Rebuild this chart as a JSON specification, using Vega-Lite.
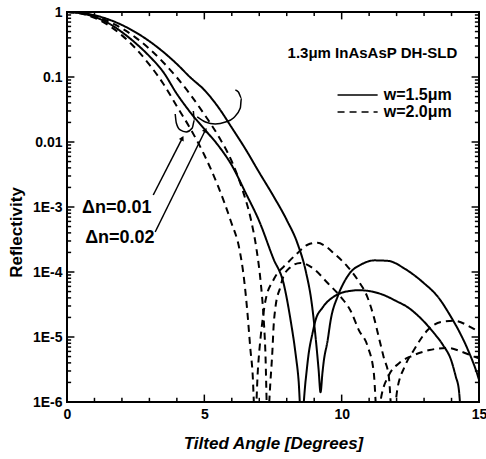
{
  "$schema": "https://vega.github.io/schema/vega-lite/v6.json",
  "width": 412,
  "height": 390,
  "autosize": {"type": "none"},
  "padding": {"left": 67, "top": 12, "right": 7, "bottom": 57},
  "background": "white",
  "config": {
    "view": {"stroke": "black", "strokeWidth": 2},
    "font": "Liberation Sans",
    "axis": {
      "domain": false,
      "grid": false,
      "ticks": false,
      "labelFont": "Liberation Sans",
      "labelFontWeight": "bold",
      "labelFontSize": 14,
      "labelColor": "black",
      "labelFlush": false,
      "titleFont": "Liberation Sans",
      "titleFontWeight": "bold",
      "titleFontSize": 17,
      "titleColor": "black"
    }
  },
  "datasets": {
    "curves": [
      {"c": "s2", "w": "1.5", "x": 0, "y": 1},
      {"c": "s2", "w": "1.5", "x": 0.5, "y": 0.9716},
      {"c": "s2", "w": "1.5", "x": 1, "y": 0.8913},
      {"c": "s2", "w": "1.5", "x": 1.5, "y": 0.7718},
      {"c": "s2", "w": "1.5", "x": 2, "y": 0.631},
      {"c": "s2", "w": "1.5", "x": 2.5, "y": 0.487},
      {"c": "s2", "w": "1.5", "x": 3, "y": 0.3548},
      {"c": "s2", "w": "1.5", "x": 3.5, "y": 0.244},
      {"c": "s2", "w": "1.5", "x": 4, "y": 0.1585},
      {"c": "s2", "w": "1.5", "x": 4.5, "y": 0.0977},
      {"c": "s2", "w": "1.5", "x": 5, "y": 0.0631},
      {"c": "s2", "w": "1.5", "x": 5.5, "y": 0.0347},
      {"c": "s2", "w": "1.5", "x": 6, "y": 0.0166},
      {"c": "s2", "w": "1.5", "x": 6.5, "y": 0.00776},
      {"c": "s2", "w": "1.5", "x": 7, "y": 0.00339},
      {"c": "s2", "w": "1.5", "x": 7.5, "y": 0.00151},
      {"c": "s2", "w": "1.5", "x": 8, "y": 0.000631},
      {"c": "s2", "w": "1.5", "x": 8.4, "y": 0.000269},
      {"c": "s2", "w": "1.5", "x": 8.7, "y": 0.0001},
      {"c": "s2", "w": "1.5", "x": 8.9, "y": 0.0000355},
      {"c": "s2", "w": "1.5", "x": 9.05, "y": 0.00001},
      {"c": "s2", "w": "1.5", "x": 9.16, "y": 0.00000316},
      {"c": "s2", "w": "1.5", "x": 9.23, "y": 0.00000141},
      {"c": "s2", "w": "1.5", "x": 9.3, "y": 0.0000028},
      {"c": "s2", "w": "1.5", "x": 9.34, "y": 0.00000398},
      {"c": "s2", "w": "1.5", "x": 9.49, "y": 0.0000089},
      {"c": "s2", "w": "1.5", "x": 9.6, "y": 0.0000182},
      {"c": "s2", "w": "1.5", "x": 9.85, "y": 0.0000417},
      {"c": "s2", "w": "1.5", "x": 10.07, "y": 0.0000676},
      {"c": "s2", "w": "1.5", "x": 10.33, "y": 0.0001},
      {"c": "s2", "w": "1.5", "x": 10.69, "y": 0.000129},
      {"c": "s2", "w": "1.5", "x": 11.2, "y": 0.000151},
      {"c": "s2", "w": "1.5", "x": 11.7, "y": 0.000148},
      {"c": "s2", "w": "1.5", "x": 12.3, "y": 0.000112},
      {"c": "s2", "w": "1.5", "x": 12.99, "y": 0.0000676},
      {"c": "s2", "w": "1.5", "x": 13.5, "y": 0.0000417},
      {"c": "s2", "w": "1.5", "x": 13.98, "y": 0.0000204},
      {"c": "s2", "w": "1.5", "x": 14.3, "y": 0.0000117},
      {"c": "s2", "w": "1.5", "x": 14.6, "y": 0.0000063},
      {"c": "s2", "w": "1.5", "x": 14.96, "y": 0.0000025},
      {"c": "s2", "w": "1.5", "x": 15, "y": 0.0000022},

      {"c": "s1", "w": "1.5", "x": 0, "y": 1},
      {"c": "s1", "w": "1.5", "x": 0.5, "y": 0.955},
      {"c": "s1", "w": "1.5", "x": 1, "y": 0.841},
      {"c": "s1", "w": "1.5", "x": 1.5, "y": 0.676},
      {"c": "s1", "w": "1.5", "x": 2, "y": 0.49},
      {"c": "s1", "w": "1.5", "x": 2.5, "y": 0.331},
      {"c": "s1", "w": "1.5", "x": 3, "y": 0.209},
      {"c": "s1", "w": "1.5", "x": 3.5, "y": 0.12},
      {"c": "s1", "w": "1.5", "x": 4, "y": 0.055},
      {"c": "s1", "w": "1.5", "x": 4.5, "y": 0.0282},
      {"c": "s1", "w": "1.5", "x": 5, "y": 0.0158},
      {"c": "s1", "w": "1.5", "x": 5.5, "y": 0.00891},
      {"c": "s1", "w": "1.5", "x": 6, "y": 0.00437},
      {"c": "s1", "w": "1.5", "x": 6.5, "y": 0.00166},
      {"c": "s1", "w": "1.5", "x": 7, "y": 0.000603},
      {"c": "s1", "w": "1.5", "x": 7.5, "y": 0.000166},
      {"c": "s1", "w": "1.5", "x": 7.9, "y": 0.000063},
      {"c": "s1", "w": "1.5", "x": 8.14, "y": 0.0000182},
      {"c": "s1", "w": "1.5", "x": 8.32, "y": 0.0000056},
      {"c": "s1", "w": "1.5", "x": 8.43, "y": 0.00000219},
      {"c": "s1", "w": "1.5", "x": 8.53, "y": 0.0000005},
      {"c": "s1", "w": "1.5", "x": 8.69, "y": 0.00000219},
      {"c": "s1", "w": "1.5", "x": 8.8, "y": 0.0000056},
      {"c": "s1", "w": "1.5", "x": 8.94, "y": 0.0000115},
      {"c": "s1", "w": "1.5", "x": 9.05, "y": 0.0000182},
      {"c": "s1", "w": "1.5", "x": 9.3, "y": 0.0000282},
      {"c": "s1", "w": "1.5", "x": 9.71, "y": 0.0000417},
      {"c": "s1", "w": "1.5", "x": 10, "y": 0.0000479},
      {"c": "s1", "w": "1.5", "x": 10.33, "y": 0.0000513},
      {"c": "s1", "w": "1.5", "x": 10.6, "y": 0.0000525},
      {"c": "s1", "w": "1.5", "x": 10.95, "y": 0.0000513},
      {"c": "s1", "w": "1.5", "x": 11.5, "y": 0.0000447},
      {"c": "s1", "w": "1.5", "x": 12, "y": 0.0000355},
      {"c": "s1", "w": "1.5", "x": 12.4, "y": 0.0000288},
      {"c": "s1", "w": "1.5", "x": 12.9, "y": 0.000019},
      {"c": "s1", "w": "1.5", "x": 13.36, "y": 0.0000115},
      {"c": "s1", "w": "1.5", "x": 13.7, "y": 0.0000074},
      {"c": "s1", "w": "1.5", "x": 13.98, "y": 0.00000447},
      {"c": "s1", "w": "1.5", "x": 14.15, "y": 0.0000025},
      {"c": "s1", "w": "1.5", "x": 14.27, "y": 0.0000015},
      {"c": "s1", "w": "1.5", "x": 14.35, "y": 0.0000005},

      {"c": "d2", "w": "2.0", "x": 0, "y": 1},
      {"c": "d2", "w": "2.0", "x": 0.5, "y": 0.95},
      {"c": "d2", "w": "2.0", "x": 1, "y": 0.813},
      {"c": "d2", "w": "2.0", "x": 1.5, "y": 0.631},
      {"c": "d2", "w": "2.0", "x": 2, "y": 0.437},
      {"c": "d2", "w": "2.0", "x": 2.5, "y": 0.275},
      {"c": "d2", "w": "2.0", "x": 3, "y": 0.155},
      {"c": "d2", "w": "2.0", "x": 3.5, "y": 0.0794},
      {"c": "d2", "w": "2.0", "x": 4, "y": 0.0355},
      {"c": "d2", "w": "2.0", "x": 4.5, "y": 0.0158},
      {"c": "d2", "w": "2.0", "x": 5, "y": 0.0063},
      {"c": "d2", "w": "2.0", "x": 5.5, "y": 0.00209},
      {"c": "d2", "w": "2.0", "x": 5.95, "y": 0.00063},
      {"c": "d2", "w": "2.0", "x": 6.3, "y": 0.0002},
      {"c": "d2", "w": "2.0", "x": 6.42, "y": 0.000095},
      {"c": "d2", "w": "2.0", "x": 6.5, "y": 0.000048},
      {"c": "d2", "w": "2.0", "x": 6.57, "y": 0.0000234},
      {"c": "d2", "w": "2.0", "x": 6.68, "y": 0.0000063},
      {"c": "d2", "w": "2.0", "x": 6.75, "y": 0.0000031},
      {"c": "d2", "w": "2.0", "x": 6.85, "y": 0.0000005},
      {"c": "d2", "w": "2.0", "x": 6.95, "y": 0.00000316},
      {"c": "d2", "w": "2.0", "x": 7.05, "y": 0.00001},
      {"c": "d2", "w": "2.0", "x": 7.12, "y": 0.0000182},
      {"c": "d2", "w": "2.0", "x": 7.23, "y": 0.000037},
      {"c": "d2", "w": "2.0", "x": 7.52, "y": 0.000076},
      {"c": "d2", "w": "2.0", "x": 8.03, "y": 0.000138},
      {"c": "d2", "w": "2.0", "x": 8.39, "y": 0.000195},
      {"c": "d2", "w": "2.0", "x": 8.76, "y": 0.000263},
      {"c": "d2", "w": "2.0", "x": 9.12, "y": 0.000282},
      {"c": "d2", "w": "2.0", "x": 9.4, "y": 0.000251},
      {"c": "d2", "w": "2.0", "x": 9.71, "y": 0.000195},
      {"c": "d2", "w": "2.0", "x": 10.22, "y": 0.00012},
      {"c": "d2", "w": "2.0", "x": 10.58, "y": 0.000076},
      {"c": "d2", "w": "2.0", "x": 10.95, "y": 0.0000398},
      {"c": "d2", "w": "2.0", "x": 11.17, "y": 0.0000204},
      {"c": "d2", "w": "2.0", "x": 11.35, "y": 0.00001},
      {"c": "d2", "w": "2.0", "x": 11.53, "y": 0.0000049},
      {"c": "d2", "w": "2.0", "x": 11.72, "y": 0.0000024},
      {"c": "d2", "w": "2.0", "x": 11.85, "y": 0.0000005},
      {"c": "d2", "w": "2.0", "x": 12.04, "y": 0.0000017},
      {"c": "d2", "w": "2.0", "x": 12.3, "y": 0.00000355},
      {"c": "d2", "w": "2.0", "x": 12.63, "y": 0.0000063},
      {"c": "d2", "w": "2.0", "x": 13.14, "y": 0.0000129},
      {"c": "d2", "w": "2.0", "x": 13.61, "y": 0.000017},
      {"c": "d2", "w": "2.0", "x": 14.09, "y": 0.0000178},
      {"c": "d2", "w": "2.0", "x": 14.71, "y": 0.0000141},
      {"c": "d2", "w": "2.0", "x": 15, "y": 0.000012},

      {"c": "d1", "w": "2.0", "x": 0, "y": 1},
      {"c": "d1", "w": "2.0", "x": 0.5, "y": 0.964},
      {"c": "d1", "w": "2.0", "x": 1, "y": 0.865},
      {"c": "d1", "w": "2.0", "x": 1.5, "y": 0.721},
      {"c": "d1", "w": "2.0", "x": 2, "y": 0.56},
      {"c": "d1", "w": "2.0", "x": 2.5, "y": 0.404},
      {"c": "d1", "w": "2.0", "x": 3, "y": 0.271},
      {"c": "d1", "w": "2.0", "x": 3.5, "y": 0.169},
      {"c": "d1", "w": "2.0", "x": 4, "y": 0.0982},
      {"c": "d1", "w": "2.0", "x": 4.5, "y": 0.053},
      {"c": "d1", "w": "2.0", "x": 5, "y": 0.0266},
      {"c": "d1", "w": "2.0", "x": 5.5, "y": 0.0126},
      {"c": "d1", "w": "2.0", "x": 6, "y": 0.00501},
      {"c": "d1", "w": "2.0", "x": 6.4, "y": 0.00178},
      {"c": "d1", "w": "2.0", "x": 6.7, "y": 0.00063},
      {"c": "d1", "w": "2.0", "x": 6.9, "y": 0.000224},
      {"c": "d1", "w": "2.0", "x": 7.05, "y": 0.000071},
      {"c": "d1", "w": "2.0", "x": 7.15, "y": 0.0000224},
      {"c": "d1", "w": "2.0", "x": 7.22, "y": 0.0000063},
      {"c": "d1", "w": "2.0", "x": 7.3, "y": 0.0000005},
      {"c": "d1", "w": "2.0", "x": 7.41, "y": 0.00000219},
      {"c": "d1", "w": "2.0", "x": 7.48, "y": 0.0000063},
      {"c": "d1", "w": "2.0", "x": 7.52, "y": 0.0000141},
      {"c": "d1", "w": "2.0", "x": 7.59, "y": 0.0000288},
      {"c": "d1", "w": "2.0", "x": 7.77, "y": 0.000059},
      {"c": "d1", "w": "2.0", "x": 7.85, "y": 0.000079},
      {"c": "d1", "w": "2.0", "x": 8.1, "y": 0.000115},
      {"c": "d1", "w": "2.0", "x": 8.5, "y": 0.000138},
      {"c": "d1", "w": "2.0", "x": 8.98, "y": 0.000112},
      {"c": "d1", "w": "2.0", "x": 9.49, "y": 0.0000676},
      {"c": "d1", "w": "2.0", "x": 9.96, "y": 0.0000417},
      {"c": "d1", "w": "2.0", "x": 10.33, "y": 0.0000251},
      {"c": "d1", "w": "2.0", "x": 10.62, "y": 0.0000129},
      {"c": "d1", "w": "2.0", "x": 10.95, "y": 0.0000071},
      {"c": "d1", "w": "2.0", "x": 11.17, "y": 0.0000028},
      {"c": "d1", "w": "2.0", "x": 11.3, "y": 0.0000005},
      {"c": "d1", "w": "2.0", "x": 11.45, "y": 0.00000126},
      {"c": "d1", "w": "2.0", "x": 11.7, "y": 0.0000025},
      {"c": "d1", "w": "2.0", "x": 12.1, "y": 0.00000398},
      {"c": "d1", "w": "2.0", "x": 12.6, "y": 0.0000052},
      {"c": "d1", "w": "2.0", "x": 13.2, "y": 0.0000063},
      {"c": "d1", "w": "2.0", "x": 13.87, "y": 0.0000068},
      {"c": "d1", "w": "2.0", "x": 14.34, "y": 0.000006},
      {"c": "d1", "w": "2.0", "x": 14.82, "y": 0.000005},
      {"c": "d1", "w": "2.0", "x": 15, "y": 0.0000047}
    ],
    "legendLines": [
      {"g": "a", "w": "1.5", "x": 9.85, "y": 0.0528},
      {"g": "a", "w": "1.5", "x": 11.31, "y": 0.0528},
      {"g": "b", "w": "2.0", "x": 9.85, "y": 0.0289},
      {"g": "b", "w": "2.0", "x": 11.31, "y": 0.0289}
    ],
    "paths": [
      {"g": "arrow1", "i": 0, "x": 3.14, "y": 0.00153},
      {"g": "arrow1", "i": 1, "x": 4.2, "y": 0.0115},
      {"g": "arrow2", "i": 0, "x": 3.21, "y": 0.000412},
      {"g": "arrow2", "i": 1, "x": 5.04, "y": 0.0153},
      {"g": "curl1", "i": 0, "x": 3.94, "y": 0.027},
      {"g": "curl1", "i": 1, "x": 3.98, "y": 0.0196},
      {"g": "curl1", "i": 2, "x": 4.12, "y": 0.0153},
      {"g": "curl1", "i": 3, "x": 4.34, "y": 0.01425},
      {"g": "curl1", "i": 4, "x": 4.56, "y": 0.0164},
      {"g": "curl1", "i": 5, "x": 4.64, "y": 0.0218},
      {"g": "curl1", "i": 6, "x": 4.6, "y": 0.03},
      {"g": "curl2", "i": 0, "x": 4.74, "y": 0.0243},
      {"g": "curl2", "i": 1, "x": 5.04, "y": 0.0203},
      {"g": "curl2", "i": 2, "x": 5.4, "y": 0.0189},
      {"g": "curl2", "i": 3, "x": 5.77, "y": 0.0203},
      {"g": "curl2", "i": 4, "x": 6.06, "y": 0.0234},
      {"g": "curl2", "i": 5, "x": 6.31, "y": 0.0333},
      {"g": "curl2", "i": 6, "x": 6.35, "y": 0.0475},
      {"g": "curl2", "i": 7, "x": 6.24, "y": 0.0589},
      {"g": "curl2", "i": 8, "x": 6.13, "y": 0.063}
    ],
    "heads": [
      {"x": 4.2, "y": 0.0115},
      {"x": 5.04, "y": 0.0153}
    ],
    "ticks": [
      {"g": "b1", "i": 0, "x": 1, "y": 0.000001}, {"g": "b1", "i": 1, "x": 1, "y": 0.00000116},
      {"g": "b2", "i": 0, "x": 2, "y": 0.000001}, {"g": "b2", "i": 1, "x": 2, "y": 0.00000116},
      {"g": "b3", "i": 0, "x": 3, "y": 0.000001}, {"g": "b3", "i": 1, "x": 3, "y": 0.00000116},
      {"g": "b4", "i": 0, "x": 4, "y": 0.000001}, {"g": "b4", "i": 1, "x": 4, "y": 0.00000116},
      {"g": "b5", "i": 0, "x": 5, "y": 0.000001}, {"g": "b5", "i": 1, "x": 5, "y": 0.0000013},
      {"g": "b6", "i": 0, "x": 6, "y": 0.000001}, {"g": "b6", "i": 1, "x": 6, "y": 0.00000116},
      {"g": "b7", "i": 0, "x": 7, "y": 0.000001}, {"g": "b7", "i": 1, "x": 7, "y": 0.00000116},
      {"g": "b8", "i": 0, "x": 8, "y": 0.000001}, {"g": "b8", "i": 1, "x": 8, "y": 0.00000116},
      {"g": "b9", "i": 0, "x": 9, "y": 0.000001}, {"g": "b9", "i": 1, "x": 9, "y": 0.00000116},
      {"g": "b10", "i": 0, "x": 10, "y": 0.000001}, {"g": "b10", "i": 1, "x": 10, "y": 0.0000013},
      {"g": "b11", "i": 0, "x": 11, "y": 0.000001}, {"g": "b11", "i": 1, "x": 11, "y": 0.00000116},
      {"g": "b12", "i": 0, "x": 12, "y": 0.000001}, {"g": "b12", "i": 1, "x": 12, "y": 0.00000116},
      {"g": "b13", "i": 0, "x": 13, "y": 0.000001}, {"g": "b13", "i": 1, "x": 13, "y": 0.00000116},
      {"g": "b14", "i": 0, "x": 14, "y": 0.000001}, {"g": "b14", "i": 1, "x": 14, "y": 0.00000116},
      {"g": "t1", "i": 0, "x": 1, "y": 1}, {"g": "t1", "i": 1, "x": 1, "y": 0.865},
      {"g": "t2", "i": 0, "x": 2, "y": 1}, {"g": "t2", "i": 1, "x": 2, "y": 0.865},
      {"g": "t3", "i": 0, "x": 3, "y": 1}, {"g": "t3", "i": 1, "x": 3, "y": 0.865},
      {"g": "t4", "i": 0, "x": 4, "y": 1}, {"g": "t4", "i": 1, "x": 4, "y": 0.865},
      {"g": "t5", "i": 0, "x": 5, "y": 1}, {"g": "t5", "i": 1, "x": 5, "y": 0.77},
      {"g": "t6", "i": 0, "x": 6, "y": 1}, {"g": "t6", "i": 1, "x": 6, "y": 0.865},
      {"g": "t7", "i": 0, "x": 7, "y": 1}, {"g": "t7", "i": 1, "x": 7, "y": 0.865},
      {"g": "t8", "i": 0, "x": 8, "y": 1}, {"g": "t8", "i": 1, "x": 8, "y": 0.865},
      {"g": "t9", "i": 0, "x": 9, "y": 1}, {"g": "t9", "i": 1, "x": 9, "y": 0.865},
      {"g": "t10", "i": 0, "x": 10, "y": 1}, {"g": "t10", "i": 1, "x": 10, "y": 0.77},
      {"g": "t11", "i": 0, "x": 11, "y": 1}, {"g": "t11", "i": 1, "x": 11, "y": 0.865},
      {"g": "t12", "i": 0, "x": 12, "y": 1}, {"g": "t12", "i": 1, "x": 12, "y": 0.865},
      {"g": "t13", "i": 0, "x": 13, "y": 1}, {"g": "t13", "i": 1, "x": 13, "y": 0.865},
      {"g": "t14", "i": 0, "x": 14, "y": 1}, {"g": "t14", "i": 1, "x": 14, "y": 0.865},

      {"g": "L5", "i": 0, "x": 0, "y": 0.00001}, {"g": "L5", "i": 1, "x": 0.27, "y": 0.00001},
      {"g": "L4", "i": 0, "x": 0, "y": 0.0001}, {"g": "L4", "i": 1, "x": 0.27, "y": 0.0001},
      {"g": "L3", "i": 0, "x": 0, "y": 0.001}, {"g": "L3", "i": 1, "x": 0.27, "y": 0.001},
      {"g": "L2", "i": 0, "x": 0, "y": 0.01}, {"g": "L2", "i": 1, "x": 0.27, "y": 0.01},
      {"g": "L1", "i": 0, "x": 0, "y": 0.1}, {"g": "L1", "i": 1, "x": 0.27, "y": 0.1},
      {"g": "R5", "i": 0, "x": 15, "y": 0.00001}, {"g": "R5", "i": 1, "x": 14.73, "y": 0.00001},
      {"g": "R4", "i": 0, "x": 15, "y": 0.0001}, {"g": "R4", "i": 1, "x": 14.73, "y": 0.0001},
      {"g": "R3", "i": 0, "x": 15, "y": 0.001}, {"g": "R3", "i": 1, "x": 14.73, "y": 0.001},
      {"g": "R2", "i": 0, "x": 15, "y": 0.01}, {"g": "R2", "i": 1, "x": 14.73, "y": 0.01},
      {"g": "R1", "i": 0, "x": 15, "y": 0.1}, {"g": "R1", "i": 1, "x": 14.73, "y": 0.1},

      {"g": "l62", "i": 0, "x": 0, "y": 0.000002}, {"g": "l62", "i": 1, "x": 0.15, "y": 0.000002},
      {"g": "l63", "i": 0, "x": 0, "y": 0.000003}, {"g": "l63", "i": 1, "x": 0.15, "y": 0.000003},
      {"g": "l64", "i": 0, "x": 0, "y": 0.000004}, {"g": "l64", "i": 1, "x": 0.15, "y": 0.000004},
      {"g": "l65", "i": 0, "x": 0, "y": 0.000005}, {"g": "l65", "i": 1, "x": 0.15, "y": 0.000005},
      {"g": "l66", "i": 0, "x": 0, "y": 0.000006}, {"g": "l66", "i": 1, "x": 0.15, "y": 0.000006},
      {"g": "l67", "i": 0, "x": 0, "y": 0.000007}, {"g": "l67", "i": 1, "x": 0.15, "y": 0.000007},
      {"g": "l68", "i": 0, "x": 0, "y": 0.000008}, {"g": "l68", "i": 1, "x": 0.15, "y": 0.000008},
      {"g": "l69", "i": 0, "x": 0, "y": 0.000009}, {"g": "l69", "i": 1, "x": 0.15, "y": 0.000009},
      {"g": "l52", "i": 0, "x": 0, "y": 0.00002}, {"g": "l52", "i": 1, "x": 0.15, "y": 0.00002},
      {"g": "l53", "i": 0, "x": 0, "y": 0.00003}, {"g": "l53", "i": 1, "x": 0.15, "y": 0.00003},
      {"g": "l54", "i": 0, "x": 0, "y": 0.00004}, {"g": "l54", "i": 1, "x": 0.15, "y": 0.00004},
      {"g": "l55", "i": 0, "x": 0, "y": 0.00005}, {"g": "l55", "i": 1, "x": 0.15, "y": 0.00005},
      {"g": "l56", "i": 0, "x": 0, "y": 0.00006}, {"g": "l56", "i": 1, "x": 0.15, "y": 0.00006},
      {"g": "l57", "i": 0, "x": 0, "y": 0.00007}, {"g": "l57", "i": 1, "x": 0.15, "y": 0.00007},
      {"g": "l58", "i": 0, "x": 0, "y": 0.00008}, {"g": "l58", "i": 1, "x": 0.15, "y": 0.00008},
      {"g": "l59", "i": 0, "x": 0, "y": 0.00009}, {"g": "l59", "i": 1, "x": 0.15, "y": 0.00009},
      {"g": "l42", "i": 0, "x": 0, "y": 0.0002}, {"g": "l42", "i": 1, "x": 0.15, "y": 0.0002},
      {"g": "l43", "i": 0, "x": 0, "y": 0.0003}, {"g": "l43", "i": 1, "x": 0.15, "y": 0.0003},
      {"g": "l44", "i": 0, "x": 0, "y": 0.0004}, {"g": "l44", "i": 1, "x": 0.15, "y": 0.0004},
      {"g": "l45", "i": 0, "x": 0, "y": 0.0005}, {"g": "l45", "i": 1, "x": 0.15, "y": 0.0005},
      {"g": "l46", "i": 0, "x": 0, "y": 0.0006}, {"g": "l46", "i": 1, "x": 0.15, "y": 0.0006},
      {"g": "l47", "i": 0, "x": 0, "y": 0.0007}, {"g": "l47", "i": 1, "x": 0.15, "y": 0.0007},
      {"g": "l48", "i": 0, "x": 0, "y": 0.0008}, {"g": "l48", "i": 1, "x": 0.15, "y": 0.0008},
      {"g": "l49", "i": 0, "x": 0, "y": 0.0009}, {"g": "l49", "i": 1, "x": 0.15, "y": 0.0009},
      {"g": "l32", "i": 0, "x": 0, "y": 0.002}, {"g": "l32", "i": 1, "x": 0.15, "y": 0.002},
      {"g": "l33", "i": 0, "x": 0, "y": 0.003}, {"g": "l33", "i": 1, "x": 0.15, "y": 0.003},
      {"g": "l34", "i": 0, "x": 0, "y": 0.004}, {"g": "l34", "i": 1, "x": 0.15, "y": 0.004},
      {"g": "l35", "i": 0, "x": 0, "y": 0.005}, {"g": "l35", "i": 1, "x": 0.15, "y": 0.005},
      {"g": "l36", "i": 0, "x": 0, "y": 0.006}, {"g": "l36", "i": 1, "x": 0.15, "y": 0.006},
      {"g": "l37", "i": 0, "x": 0, "y": 0.007}, {"g": "l37", "i": 1, "x": 0.15, "y": 0.007},
      {"g": "l38", "i": 0, "x": 0, "y": 0.008}, {"g": "l38", "i": 1, "x": 0.15, "y": 0.008},
      {"g": "l39", "i": 0, "x": 0, "y": 0.009}, {"g": "l39", "i": 1, "x": 0.15, "y": 0.009},
      {"g": "l22", "i": 0, "x": 0, "y": 0.02}, {"g": "l22", "i": 1, "x": 0.15, "y": 0.02},
      {"g": "l23", "i": 0, "x": 0, "y": 0.03}, {"g": "l23", "i": 1, "x": 0.15, "y": 0.03},
      {"g": "l24", "i": 0, "x": 0, "y": 0.04}, {"g": "l24", "i": 1, "x": 0.15, "y": 0.04},
      {"g": "l25", "i": 0, "x": 0, "y": 0.05}, {"g": "l25", "i": 1, "x": 0.15, "y": 0.05},
      {"g": "l26", "i": 0, "x": 0, "y": 0.06}, {"g": "l26", "i": 1, "x": 0.15, "y": 0.06},
      {"g": "l27", "i": 0, "x": 0, "y": 0.07}, {"g": "l27", "i": 1, "x": 0.15, "y": 0.07},
      {"g": "l28", "i": 0, "x": 0, "y": 0.08}, {"g": "l28", "i": 1, "x": 0.15, "y": 0.08},
      {"g": "l29", "i": 0, "x": 0, "y": 0.09}, {"g": "l29", "i": 1, "x": 0.15, "y": 0.09},
      {"g": "l12", "i": 0, "x": 0, "y": 0.2}, {"g": "l12", "i": 1, "x": 0.15, "y": 0.2},
      {"g": "l13", "i": 0, "x": 0, "y": 0.3}, {"g": "l13", "i": 1, "x": 0.15, "y": 0.3},
      {"g": "l14", "i": 0, "x": 0, "y": 0.4}, {"g": "l14", "i": 1, "x": 0.15, "y": 0.4},
      {"g": "l15", "i": 0, "x": 0, "y": 0.5}, {"g": "l15", "i": 1, "x": 0.15, "y": 0.5},
      {"g": "l16", "i": 0, "x": 0, "y": 0.6}, {"g": "l16", "i": 1, "x": 0.15, "y": 0.6},
      {"g": "l17", "i": 0, "x": 0, "y": 0.7}, {"g": "l17", "i": 1, "x": 0.15, "y": 0.7},
      {"g": "l18", "i": 0, "x": 0, "y": 0.8}, {"g": "l18", "i": 1, "x": 0.15, "y": 0.8},
      {"g": "l19", "i": 0, "x": 0, "y": 0.9}, {"g": "l19", "i": 1, "x": 0.15, "y": 0.9},

      {"g": "r62", "i": 0, "x": 15, "y": 0.000002}, {"g": "r62", "i": 1, "x": 14.85, "y": 0.000002},
      {"g": "r63", "i": 0, "x": 15, "y": 0.000003}, {"g": "r63", "i": 1, "x": 14.85, "y": 0.000003},
      {"g": "r64", "i": 0, "x": 15, "y": 0.000004}, {"g": "r64", "i": 1, "x": 14.85, "y": 0.000004},
      {"g": "r65", "i": 0, "x": 15, "y": 0.000005}, {"g": "r65", "i": 1, "x": 14.85, "y": 0.000005},
      {"g": "r66", "i": 0, "x": 15, "y": 0.000006}, {"g": "r66", "i": 1, "x": 14.85, "y": 0.000006},
      {"g": "r67", "i": 0, "x": 15, "y": 0.000007}, {"g": "r67", "i": 1, "x": 14.85, "y": 0.000007},
      {"g": "r68", "i": 0, "x": 15, "y": 0.000008}, {"g": "r68", "i": 1, "x": 14.85, "y": 0.000008},
      {"g": "r69", "i": 0, "x": 15, "y": 0.000009}, {"g": "r69", "i": 1, "x": 14.85, "y": 0.000009},
      {"g": "r52", "i": 0, "x": 15, "y": 0.00002}, {"g": "r52", "i": 1, "x": 14.85, "y": 0.00002},
      {"g": "r53", "i": 0, "x": 15, "y": 0.00003}, {"g": "r53", "i": 1, "x": 14.85, "y": 0.00003},
      {"g": "r54", "i": 0, "x": 15, "y": 0.00004}, {"g": "r54", "i": 1, "x": 14.85, "y": 0.00004},
      {"g": "r55", "i": 0, "x": 15, "y": 0.00005}, {"g": "r55", "i": 1, "x": 14.85, "y": 0.00005},
      {"g": "r56", "i": 0, "x": 15, "y": 0.00006}, {"g": "r56", "i": 1, "x": 14.85, "y": 0.00006},
      {"g": "r57", "i": 0, "x": 15, "y": 0.00007}, {"g": "r57", "i": 1, "x": 14.85, "y": 0.00007},
      {"g": "r58", "i": 0, "x": 15, "y": 0.00008}, {"g": "r58", "i": 1, "x": 14.85, "y": 0.00008},
      {"g": "r59", "i": 0, "x": 15, "y": 0.00009}, {"g": "r59", "i": 1, "x": 14.85, "y": 0.00009},
      {"g": "r42", "i": 0, "x": 15, "y": 0.0002}, {"g": "r42", "i": 1, "x": 14.85, "y": 0.0002},
      {"g": "r43", "i": 0, "x": 15, "y": 0.0003}, {"g": "r43", "i": 1, "x": 14.85, "y": 0.0003},
      {"g": "r44", "i": 0, "x": 15, "y": 0.0004}, {"g": "r44", "i": 1, "x": 14.85, "y": 0.0004},
      {"g": "r45", "i": 0, "x": 15, "y": 0.0005}, {"g": "r45", "i": 1, "x": 14.85, "y": 0.0005},
      {"g": "r46", "i": 0, "x": 15, "y": 0.0006}, {"g": "r46", "i": 1, "x": 14.85, "y": 0.0006},
      {"g": "r47", "i": 0, "x": 15, "y": 0.0007}, {"g": "r47", "i": 1, "x": 14.85, "y": 0.0007},
      {"g": "r48", "i": 0, "x": 15, "y": 0.0008}, {"g": "r48", "i": 1, "x": 14.85, "y": 0.0008},
      {"g": "r49", "i": 0, "x": 15, "y": 0.0009}, {"g": "r49", "i": 1, "x": 14.85, "y": 0.0009},
      {"g": "r32", "i": 0, "x": 15, "y": 0.002}, {"g": "r32", "i": 1, "x": 14.85, "y": 0.002},
      {"g": "r33", "i": 0, "x": 15, "y": 0.003}, {"g": "r33", "i": 1, "x": 14.85, "y": 0.003},
      {"g": "r34", "i": 0, "x": 15, "y": 0.004}, {"g": "r34", "i": 1, "x": 14.85, "y": 0.004},
      {"g": "r35", "i": 0, "x": 15, "y": 0.005}, {"g": "r35", "i": 1, "x": 14.85, "y": 0.005},
      {"g": "r36", "i": 0, "x": 15, "y": 0.006}, {"g": "r36", "i": 1, "x": 14.85, "y": 0.006},
      {"g": "r37", "i": 0, "x": 15, "y": 0.007}, {"g": "r37", "i": 1, "x": 14.85, "y": 0.007},
      {"g": "r38", "i": 0, "x": 15, "y": 0.008}, {"g": "r38", "i": 1, "x": 14.85, "y": 0.008},
      {"g": "r39", "i": 0, "x": 15, "y": 0.009}, {"g": "r39", "i": 1, "x": 14.85, "y": 0.009},
      {"g": "r22", "i": 0, "x": 15, "y": 0.02}, {"g": "r22", "i": 1, "x": 14.85, "y": 0.02},
      {"g": "r23", "i": 0, "x": 15, "y": 0.03}, {"g": "r23", "i": 1, "x": 14.85, "y": 0.03},
      {"g": "r24", "i": 0, "x": 15, "y": 0.04}, {"g": "r24", "i": 1, "x": 14.85, "y": 0.04},
      {"g": "r25", "i": 0, "x": 15, "y": 0.05}, {"g": "r25", "i": 1, "x": 14.85, "y": 0.05},
      {"g": "r26", "i": 0, "x": 15, "y": 0.06}, {"g": "r26", "i": 1, "x": 14.85, "y": 0.06},
      {"g": "r27", "i": 0, "x": 15, "y": 0.07}, {"g": "r27", "i": 1, "x": 14.85, "y": 0.07},
      {"g": "r28", "i": 0, "x": 15, "y": 0.08}, {"g": "r28", "i": 1, "x": 14.85, "y": 0.08},
      {"g": "r29", "i": 0, "x": 15, "y": 0.09}, {"g": "r29", "i": 1, "x": 14.85, "y": 0.09},
      {"g": "r12", "i": 0, "x": 15, "y": 0.2}, {"g": "r12", "i": 1, "x": 14.85, "y": 0.2},
      {"g": "r13", "i": 0, "x": 15, "y": 0.3}, {"g": "r13", "i": 1, "x": 14.85, "y": 0.3},
      {"g": "r14", "i": 0, "x": 15, "y": 0.4}, {"g": "r14", "i": 1, "x": 14.85, "y": 0.4},
      {"g": "r15", "i": 0, "x": 15, "y": 0.5}, {"g": "r15", "i": 1, "x": 14.85, "y": 0.5},
      {"g": "r16", "i": 0, "x": 15, "y": 0.6}, {"g": "r16", "i": 1, "x": 14.85, "y": 0.6},
      {"g": "r17", "i": 0, "x": 15, "y": 0.7}, {"g": "r17", "i": 1, "x": 14.85, "y": 0.7},
      {"g": "r18", "i": 0, "x": 15, "y": 0.8}, {"g": "r18", "i": 1, "x": 14.85, "y": 0.8},
      {"g": "r19", "i": 0, "x": 15, "y": 0.9}, {"g": "r19", "i": 1, "x": 14.85, "y": 0.9}
    ]
  },
  "layer": [
    {
      "data": {"name": "curves"},
      "mark": {"type": "line", "clip": true, "strokeWidth": 2, "color": "black", "interpolate": "monotone"},
      "encoding": {
        "x": {
          "field": "x", "type": "quantitative",
          "scale": {"domain": [0, 15], "nice": false, "zero": false},
          "axis": {
            "orient": "bottom",
            "values": [0, 5, 10, 15],
            "labelPadding": 5,
            "title": "Tilted Angle [Degrees]",
            "titleFontStyle": "italic",
            "titlePadding": 14
          }
        },
        "y": {
          "field": "y", "type": "quantitative",
          "scale": {"type": "log", "domain": [0.000001, 1], "nice": false},
          "axis": {
            "orient": "left",
            "values": [0.000001, 0.00001, 0.0001, 0.001, 0.01, 0.1, 1],
            "labelExpr": "datum.value == 1 ? '1' : datum.value == 0.1 ? '0.1' : datum.value == 0.01 ? '0.01' : datum.value == 0.001 ? '1E-3' : datum.value == 0.0001 ? '1E-4' : datum.value == 0.00001 ? '1E-5' : '1E-6'",
            "labelPadding": 5,
            "title": "Reflectivity",
            "titleAngle": -90,
            "titleAlign": "center",
            "titleBaseline": "middle",
            "titleX": -51,
            "titleY": 220
          }
        },
        "detail": {"field": "c"},
        "strokeDash": {
          "field": "w", "type": "nominal",
          "scale": {"domain": ["1.5", "2.0"], "range": [[1, 0], [7, 5]]},
          "legend": null
        }
      }
    },
    {
      "data": {"name": "ticks"},
      "mark": {"type": "line", "strokeWidth": 1.5, "color": "black"},
      "encoding": {
        "x": {"field": "x", "type": "quantitative"},
        "y": {"field": "y", "type": "quantitative"},
        "detail": {"field": "g"},
        "order": {"field": "i", "type": "quantitative"}
      }
    },
    {
      "data": {"name": "legendLines"},
      "mark": {"type": "line", "strokeWidth": 1.5, "color": "black"},
      "encoding": {
        "x": {"field": "x", "type": "quantitative"},
        "y": {"field": "y", "type": "quantitative"},
        "detail": {"field": "g"},
        "strokeDash": {"field": "w", "type": "nominal", "legend": null}
      }
    },
    {
      "data": {"name": "paths"},
      "mark": {"type": "line", "strokeWidth": 1.5, "color": "black", "interpolate": "monotone"},
      "encoding": {
        "x": {"field": "x", "type": "quantitative"},
        "y": {"field": "y", "type": "quantitative"},
        "detail": {"field": "g"},
        "order": {"field": "i", "type": "quantitative"}
      }
    },
    {
      "data": {"name": "heads"},
      "mark": {"type": "point", "shape": "triangle-up", "filled": true, "color": "black", "size": 30, "angle": 27, "opacity": 1},
      "encoding": {
        "x": {"field": "x", "type": "quantitative"},
        "y": {"field": "y", "type": "quantitative"}
      }
    },
    {
      "data": {"values": [{"x": 8.03, "y": 0.234, "t": "1.3μm InAsAsP DH-SLD"}]},
      "mark": {"type": "text", "align": "left", "baseline": "middle", "fontSize": 15, "fontWeight": "bold", "color": "black"},
      "encoding": {
        "x": {"field": "x", "type": "quantitative"},
        "y": {"field": "y", "type": "quantitative"},
        "text": {"field": "t"}
      }
    },
    {
      "data": {"values": [{"x": 11.53, "y": 0.0528, "t": "w=1.5μm"}, {"x": 11.53, "y": 0.0289, "t": "w=2.0μm"}]},
      "mark": {"type": "text", "align": "left", "baseline": "middle", "fontSize": 16, "fontWeight": "bold", "color": "black"},
      "encoding": {
        "x": {"field": "x", "type": "quantitative"},
        "y": {"field": "y", "type": "quantitative"},
        "text": {"field": "t"}
      }
    },
    {
      "data": {"values": [{"x": 0.55, "y": 0.000966, "t": "Δn=0.01"}, {"x": 0.66, "y": 0.000333, "t": "Δn=0.02"}]},
      "mark": {"type": "text", "align": "left", "baseline": "middle", "fontSize": 18, "fontWeight": "bold", "color": "black"},
      "encoding": {
        "x": {"field": "x", "type": "quantitative"},
        "y": {"field": "y", "type": "quantitative"},
        "text": {"field": "t"}
      }
    }
  ]
}
